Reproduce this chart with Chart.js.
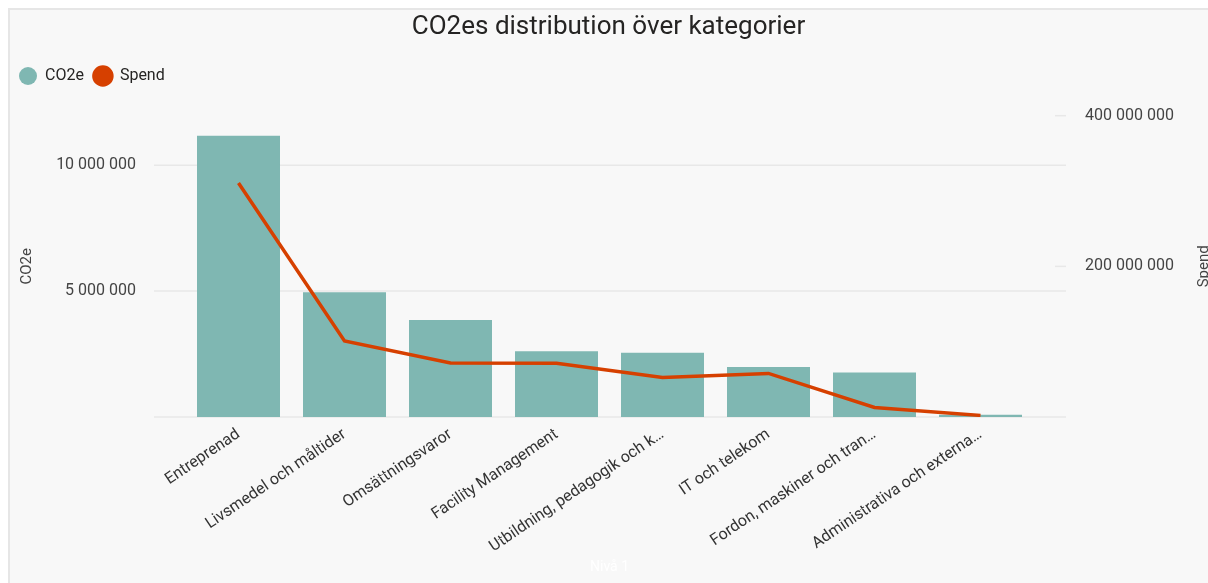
<!DOCTYPE html>
<html lang="sv">
<head>
    <meta charset="UTF-8">
    <title>CO2es distribution över kategorier</title>

    <!-- Chart.js CDN -->
    <script src="https://cdn.jsdelivr.net/npm/chart.js"></script>

    <style>
        body {
            margin: 0;
            width: 1208px;
            height: 583px;
            overflow: hidden;
            background-color: #ffffff;
            font-family: Roboto, Arial, sans-serif;
        }

        /* light report panel behind the chart */
        .panel {
            position: absolute;
            left: 8px;
            top: 8px;
            right: 0;
            bottom: 0;
            background-color: #f8f8f8;
            border-left: 2px solid #e6e6e6;
            border-top: 2px solid #e6e6e6;
        }

        .chart-box {
            position: absolute;
            left: 0;
            top: 0;
            width: 1208px;
            height: 583px;
        }
    </style>
</head>
<body>

    <div class="panel"></div>
    <div class="chart-box">
        <canvas id="co2Chart"></canvas>
    </div>

    <script>
        // Data
        const categories = [
            'Entreprenad',
            'Livsmedel och måltider',
            'Omsättningsvaror',
            'Facility Management',
            'Utbildning, pedagogik och k…',
            'IT och telekom',
            'Fordon, maskiner och tran…',
            'Administrativa och externa…'
        ];
        const co2eValues = [11170000, 4960000, 3850000, 2610000, 2550000, 1990000, 1770000, 90000];
        const spendValues = [310700000, 101000000, 71700000, 71500000, 52600000, 57900000, 12700000, 2100000];
        const co2eTicks = [5000000, 10000000];
        const spendTicks = [200000000, 400000000];

        const barColor = '#7fb7b2';
        const lineColor = '#d64000';
        const axisFont = '15px Roboto, Arial, sans-serif';

        function spaced(v) {
            return String(v).replace(/\B(?=(\d{3})+(?!\d))/g, ' ');
        }

        // Power BI style gridlines run a bit past the bars, so draw them here
        const gridPlugin = {
            id: 'pbiGrid',
            beforeDatasetsDraw(chart) {
                const { ctx, chartArea, scales } = chart;
                const x0 = chartArea.left - 31.5;
                const x1 = chartArea.right + 32.5;
                ctx.save();
                ctx.strokeStyle = '#e8e8e8';
                ctx.lineWidth = 1.5;
                [0, ...co2eTicks].forEach(v => {
                    const y = scales.y.getPixelForValue(v);
                    ctx.beginPath();
                    ctx.moveTo(x0, y);
                    ctx.lineTo(x1, y);
                    ctx.stroke();
                });
                spendTicks.forEach(v => {
                    const y = scales.y1.getPixelForValue(v);
                    ctx.beginPath();
                    ctx.moveTo(x1 - 11, y);
                    ctx.lineTo(x1, y);
                    ctx.stroke();
                });
                ctx.restore();
            },
            afterDraw(chart) {
                // axis titles, centred on the span up to the top tick, both reading upwards
                const { ctx, chartArea, scales } = chart;
                const midY = (scales.y1.getPixelForValue(spendTicks[spendTicks.length - 1]) + chartArea.bottom) / 2;
                ctx.save();
                ctx.fillStyle = '#444444';
                ctx.font = axisFont;
                ctx.textAlign = 'center';
                ctx.textBaseline = 'middle';
                [['CO2e', 27], ['Spend', 1204]].forEach(([text, x]) => {
                    ctx.save();
                    ctx.translate(x, midY);
                    ctx.rotate(-Math.PI / 2);
                    ctx.fillText(text, 0, 0);
                    ctx.restore();
                });
                ctx.restore();
            }
        };

        const ctx = document.getElementById('co2Chart').getContext('2d');
        const co2Chart = new Chart(ctx, {
            type: 'bar',
            data: {
                labels: categories,
                datasets: [{
                    type: 'bar',
                    label: 'CO2e',
                    data: co2eValues,
                    backgroundColor: barColor,
                    borderWidth: 0,
                    barPercentage: 0.783,
                    categoryPercentage: 1,
                    yAxisID: 'y',
                    order: 2
                }, {
                    type: 'line',
                    label: 'Spend',
                    data: spendValues,
                    borderColor: lineColor,
                    backgroundColor: lineColor,
                    borderWidth: 3.5,
                    pointRadius: 0,
                    tension: 0,
                    yAxisID: 'y1',
                    order: 1
                }]
            },
            options: {
                responsive: true,
                maintainAspectRatio: false,
                animation: false,
                layout: {
                    padding: { left: 9, right: 0, top: 0, bottom: 0 }
                },
                plugins: {
                    title: {
                        display: true,
                        text: 'CO2es distribution över kategorier',
                        color: '#252423',
                        font: { size: 26, weight: 'normal', family: 'Roboto' },
                        padding: { top: 12, bottom: 14.8 }
                    },
                    legend: {
                        position: 'top',
                        align: 'start',
                        labels: {
                            usePointStyle: true,
                            pointStyle: 'circle',
                            pointStyleWidth: 18,
                            boxHeight: 12.7,
                            padding: 10,
                            color: '#252423',
                            font: { size: 16, family: 'Roboto' },
                            sort: (a, b) => a.datasetIndex - b.datasetIndex
                        }
                    },
                    tooltip: { enabled: false }
                },
                scales: {
                    x: {
                        grid: { display: false },
                        border: { display: false },
                        ticks: {
                            minRotation: 34,
                            maxRotation: 34,
                            autoSkip: false,
                            padding: 0,
                            color: '#333333',
                            font: { size: 16, family: 'Roboto' }
                        },
                        title: {
                            display: true,
                            text: 'Nivå 1',
                            color: '#ffffff',
                            font: { size: 14, family: 'Roboto' },
                            padding: { top: 0, bottom: 7 }
                        },
                        afterFit(scale) { scale.height = 166; }
                    },
                    y: {
                        position: 'left',
                        min: 0,
                        max: 12830000,
                        grid: { display: false },
                        border: { display: false },
                        afterBuildTicks(scale) {
                            scale.ticks = co2eTicks.map(v => ({ value: v }));
                        },
                        ticks: {
                            padding: 41.5,
                            color: '#444444',
                            font: { size: 16, family: 'Roboto' },
                            callback: v => spaced(v)
                        },
                        afterFit(scale) { scale.width = 176.5; }
                    },
                    y1: {
                        position: 'right',
                        min: 0,
                        max: 428800000,
                        grid: { display: false },
                        border: { display: false },
                        afterBuildTicks(scale) {
                            scale.ticks = spendTicks.map(v => ({ value: v }));
                        },
                        ticks: {
                            padding: 43.5,
                            color: '#444444',
                            font: { size: 16, family: 'Roboto' },
                            callback: v => spaced(v)
                        },
                        afterFit(scale) { scale.width = 174.5; }
                    }
                }
            },
            plugins: [gridPlugin]
        });
    </script>

</body>
</html>
